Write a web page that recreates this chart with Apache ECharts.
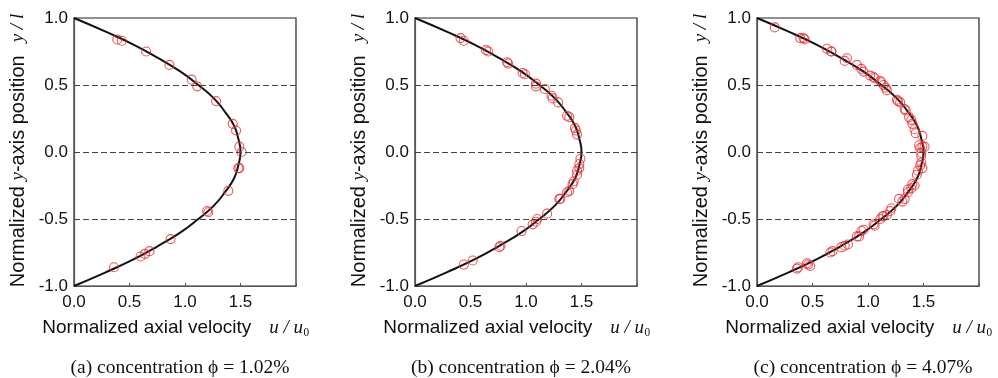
<!doctype html>
<html>
<head>
<meta charset="utf-8" />
<script src="https://cdn.jsdelivr.net/npm/echarts@6/dist/echarts.min.js"></script>
<style>
  html, body { margin: 0; background: #fff; }
  #chart { width: 998px; height: 378px; }
</style>
</head>
<body>
<div id="chart"></div>
<script>
  // theoretical profile (y / l -> u / u0)
  const curveY = [1.0, 0.9, 0.8, 0.7, 0.6, 0.5, 0.4, 0.3, 0.2, 0.1, 0.0, -0.1, -0.2, -0.3, -0.4, -0.5, -0.6, -0.7, -0.8, -0.9, -1.0];
  const curveU = [0, 0.28, 0.54, 0.76, 0.96, 1.12, 1.26, 1.36, 1.44, 1.48, 1.5, 1.48, 1.44, 1.36, 1.26, 1.12, 0.96, 0.76, 0.54, 0.28, 0];

  // measured points, (a) 1.02 %
  const uA = [0.39, 0.43, 0.65, 0.86, 1.06, 1.11, 1.28, 1.43, 1.46, 1.49, 1.51, 1.49, 1.48, 1.39, 1.21, 1.20, 0.87, 0.68, 0.64, 0.60, 0.36];
  const yA = [0.84, 0.83, 0.75, 0.65, 0.54, 0.49, 0.38, 0.21, 0.16, 0.04, 0.00, -0.12, -0.12, -0.29, -0.45, -0.44, -0.65, -0.74, -0.76, -0.78, -0.86];

  // (b) 2.04 %
  const uB = [0.41, 0.44, 0.64, 0.66, 0.83, 0.84, 0.97, 0.99, 1.09, 1.09, 1.17, 1.23, 1.24, 1.29, 1.37, 1.39, 1.44, 1.45, 1.46,
              1.49, 1.48, 1.48, 1.46, 1.46, 1.43, 1.42, 1.39, 1.37, 1.31, 1.30, 1.19, 1.10, 1.09, 1.06, 0.96, 0.77, 0.76, 0.52, 0.44];
  const yB = [0.85, 0.83, 0.76, 0.75, 0.67, 0.66, 0.59, 0.58, 0.51, 0.49, 0.47, 0.42, 0.40, 0.37, 0.27, 0.26, 0.18, 0.16, 0.13,
              -0.05, -0.09, -0.12, -0.14, -0.17, -0.22, -0.24, -0.29, -0.30, -0.35, -0.35, -0.46, -0.50, -0.52, -0.54, -0.59, -0.70, -0.71, -0.81, -0.84];

  // (c) 4.07 %
  const uC = [0.16, 0.39, 0.42, 0.43, 0.63, 0.67, 0.67, 0.79, 0.81, 0.90, 0.94, 0.96, 1.02, 1.05, 1.06, 1.11, 1.12, 1.14, 1.16, 1.17,
              1.26, 1.27, 1.29, 1.33, 1.34, 1.37, 1.39, 1.40, 1.42, 1.43, 1.49, 1.46, 1.47, 1.49, 1.51, 1.48, 1.48, 1.48, 1.47, 1.49,
              1.45, 1.44, 1.40, 1.42, 1.39, 1.36, 1.36, 1.28, 1.31, 1.33, 1.21, 1.20, 1.17, 1.14, 1.13, 1.11, 1.05, 1.06, 0.96, 0.94,
              0.92, 0.90, 0.82, 0.79, 0.76, 0.68, 0.66, 0.46, 0.45, 0.48, 0.36, 0.37];
  const yC = [0.93, 0.85, 0.85, 0.84, 0.77, 0.75, 0.75, 0.68, 0.70, 0.65, 0.62, 0.60, 0.57, 0.56, 0.55, 0.53, 0.52, 0.50, 0.48, 0.46,
              0.39, 0.38, 0.37, 0.32, 0.31, 0.26, 0.24, 0.21, 0.17, 0.14, 0.12, 0.05, 0.03, 0.04, 0.04, -0.005, -0.03, -0.08, -0.10, -0.12,
              -0.14, -0.17, -0.24, -0.25, -0.27, -0.28, -0.30, -0.35, -0.37, -0.35, -0.42, -0.44, -0.47, -0.48, -0.48, -0.50, -0.54, -0.55, -0.58, -0.59,
              -0.63, -0.63, -0.69, -0.70, -0.71, -0.74, -0.75, -0.84, -0.83, -0.85, -0.87, -0.86];

  const xTickLabels = [0, 0.5, 1.0, 1.5];
  const yTickLabels = [-1.0, -0.5, 0, 0.5, 1.0];
  const dashedLevels = [0.5, 0, -0.5];
  const captions = ['(a) concentration \u03D5 = 1.02%', '(b) concentration \u03D5 = 2.04%', '(c) concentration \u03D5 = 4.07%'];

  const panels = [
    { u: uA, y: yA, left: 74, cap: 175 },
    { u: uB, y: yB, left: 415, cap: 516 },
    { u: uC, y: yC, left: 757, cap: 858 }
  ];

  const sans = 'Liberation Sans, Arial, sans-serif';
  const serif = 'Liberation Serif, Times New Roman, serif';

  const zip = (a, b) => a.map((v, i) => [v, b[i]]);
  const curve = zip(curveU, curveY);

  const option = {
    animation: false,
    backgroundColor: '#fff',
    title: panels.map((p, i) => ({
      text: captions[i],
      left: p.cap,
      top: 353,
      textAlign: 'center',
      textStyle: { fontFamily: serif, fontSize: 19.5, fontWeight: 'normal', color: '#111' }
    })),
    grid: panels.map((p) => ({
      left: p.left, top: 18, width: 222, height: 268,
      show: true, borderColor: '#222', borderWidth: 1.2, backgroundColor: '#fff'
    })),
    xAxis: panels.map((p, i) => ({
      gridIndex: i, type: 'value', min: 0, max: 2, interval: 0.5,
      axisLine: { onZero: false, lineStyle: { color: '#555', width: 1.2 } },
      axisTick: { inside: true, length: 3, lineStyle: { color: '#555' } },
      splitLine: { show: false },
      axisLabel: {
        margin: 8, fontFamily: sans, fontSize: 17, color: '#111',
        formatter: (v) => (xTickLabels.indexOf(v) >= 0 ? v.toFixed(1) : '')
      },
      name: '{s|Normalized axial velocity}{g|}{i|u / u}{n|\u2080}',
      nameLocation: 'middle', nameGap: 32,
      nameTextStyle: {
        padding: [0, 18, 0, 0],
        rich: {
          s: { fontFamily: sans, fontSize: 19, color: '#111' },
          g: { width: 18 },
          i: { fontFamily: serif, fontStyle: 'italic', fontSize: 19, color: '#111' },
          n: { fontFamily: serif, fontSize: 19, color: '#111' }
        }
      }
    })),
    yAxis: panels.map((p, i) => ({
      gridIndex: i, type: 'value', min: -1, max: 1, interval: 0.5,
      axisLine: { lineStyle: { color: '#555', width: 1.2 } },
      axisTick: { show: true, inside: true, length: 3, lineStyle: { color: '#555' } },
      splitLine: { show: false },
      axisLabel: {
        margin: 6, fontFamily: sans, fontSize: 17, color: '#111',
        formatter: (v) => (yTickLabels.indexOf(v) >= 0 ? v.toFixed(1) : '')
      },
      name: '{s|Normalized }{i|y}{s|-axis position}{g|}{i|y / l}',
      nameLocation: 'middle', nameGap: 46, nameRotate: 90,
      nameTextStyle: {
        padding: [0, 0, 0, 3],
        rich: {
          s: { fontFamily: sans, fontSize: 20, color: '#111' },
          g: { width: 13 },
          i: { fontFamily: serif, fontStyle: 'italic', fontSize: 19, color: '#111' }
        }
      }
    })),
    series: panels.flatMap((p, i) => [
      {
        type: 'line', xAxisIndex: i, yAxisIndex: i, data: curve,
        smooth: true, showSymbol: false, silent: true,
        lineStyle: { color: '#111', width: 2 },
        markLine: {
          silent: true, symbol: 'none', label: { show: false },
          lineStyle: { type: [6, 3], color: '#444', width: 1 },
          data: dashedLevels.map((v) => ({ yAxis: v }))
        },
        z: 3
      },
      {
        type: 'scatter', xAxisIndex: i, yAxisIndex: i, data: zip(p.u, p.y),
        symbol: 'circle', symbolSize: 9,
        itemStyle: { color: 'rgba(0,0,0,0)', borderColor: '#e6302f', borderWidth: 1.1 },
        z: 4
      }
    ])
  };

  const chart = echarts.init(document.getElementById('chart'));
  chart.setOption(option);
</script>
</body>
</html>
